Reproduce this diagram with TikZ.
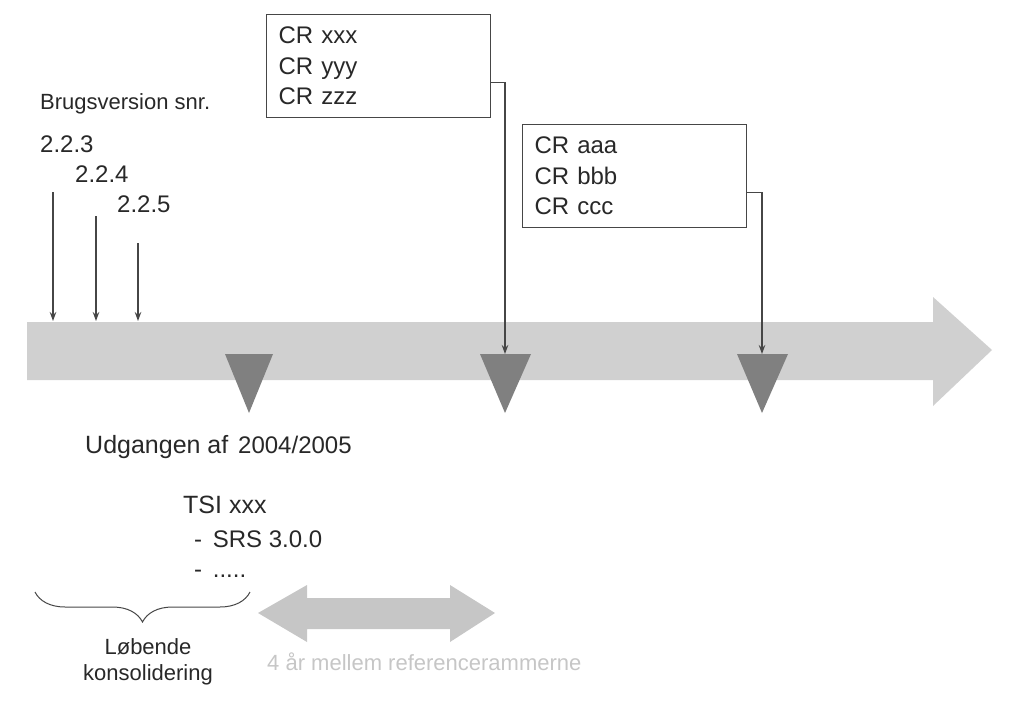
\documentclass[tikz,border=0pt]{standalone}
\usepackage{fontspec}
\setmainfont{Liberation Sans}
\usetikzlibrary{arrows.meta,decorations.pathreplacing}
\definecolor{txtgray}{RGB}{40,40,40}
\definecolor{bargray}{RGB}{208,208,208}
\definecolor{markgray}{RGB}{128,128,128}
\definecolor{spangray}{RGB}{198,198,198}
\definecolor{linegray}{RGB}{70,70,70}
\tikzset{
  lbl/.style={anchor=base west, inner sep=0pt, text=txtgray},
  crbox/.style={draw=linegray, line width=1.2pt, anchor=north west, minimum width=224pt,
    minimum height=103pt, align=left, text width=200pt, inner xsep=11pt, text=txtgray,
    font=\fontsize{24}{30.5}\selectfont},
  conn/.style={draw=linegray, line width=1.1pt, -{Stealth[length=9pt,width=6.5pt]}},
}
\begin{document}
\begin{tikzpicture}[x=1pt,y=-1pt]
                \useasboundingbox (0,0) rectangle (1024,709);
                \fill[bargray] (27,322) -- (933,322) -- (933,297) -- (992,350) -- (933,406) -- (933,380) -- (27,380) -- cycle;
                \fill[markgray] (225,354) -- (273,354) -- (249,413) -- cycle;
                \fill[markgray] (480,354) -- (531,354) -- (505,413) -- cycle;
                \fill[markgray] (737,354) -- (788,354) -- (762,413) -- cycle;
                \coordinate (m1) at (249,354);
                \coordinate (m2) at (505,354);
                \coordinate (m3) at (762,354);
                \coordinate (bar) at (0,321);
                \node[crbox] (crA) at (266,14) {CR xxx\\CR yyy\\CR zzz};
                \node[crbox] (crB) at (522,124) {CR aaa\\CR bbb\\CR ccc};
                \draw[conn] ([yshift=-16.5pt]crA.east) -| (m2);
                \draw[conn] ([yshift=-16.5pt]crB.east) -| (m3);
                \node[lbl, font=\fontsize{22}{26}\selectfont] (brug) at (40,109) {Brugsversion snr.};
                \node[lbl, font=\fontsize{24}{28}\selectfont] (v223) at (40,152) {2.2.3};
                \node[lbl, font=\fontsize{24}{28}\selectfont] (v224) at (75,182) {2.2.4};
                \node[lbl, font=\fontsize{24}{28}\selectfont] (v225) at (117,212) {2.2.5};
                \coordinate (p223) at (53,192);
                \coordinate (p224) at (96,216);
                \coordinate (p225) at (138,243);
                \draw[conn] (p223) -- (p223 |- bar);
                \draw[conn] (p224) -- (p224 |- bar);
                \draw[conn] (p225) -- (p225 |- bar);
                \node[lbl, font=\fontsize{25}{28}\selectfont] (udg) at (85,453) {Udgangen af};
                \node[lbl, font=\fontsize{24}{28}\selectfont] (year) at (238,453) {2004/2005};
                \node[lbl, font=\fontsize{25}{28}\selectfont] (tsi) at (183,513) {TSI xxx};
                \node[lbl, font=\fontsize{24}{28}\selectfont] (srs) at (194,547) {-\hspace{4pt} SRS 3.0.0};
                \node[lbl, font=\fontsize{24}{28}\selectfont] (etc) at (194,577) {-\hspace{4pt} .....};
                \draw[linegray, line width=1pt, decorate, decoration={brace, mirror, amplitude=30pt}] (35,592) -- (250,592);
                \node[inner sep=0pt, anchor=north, align=center, text=txtgray, font=\fontsize{22}{26}\selectfont] (lob) at (148,638) {Løbende\\konsolidering};
                \fill[spangray] (258,613) -- (307,585) -- (307,598) -- (450,598) -- (450,585) -- (495,613) -- (450,642) -- (450,629) -- (307,629) -- (307,642) -- cycle;
                \node[lbl, text=spangray, font=\fontsize{22}{26}\selectfont] (span) at (267,670) {4 år mellem referencerammerne};
            \end{tikzpicture}
\end{document}
